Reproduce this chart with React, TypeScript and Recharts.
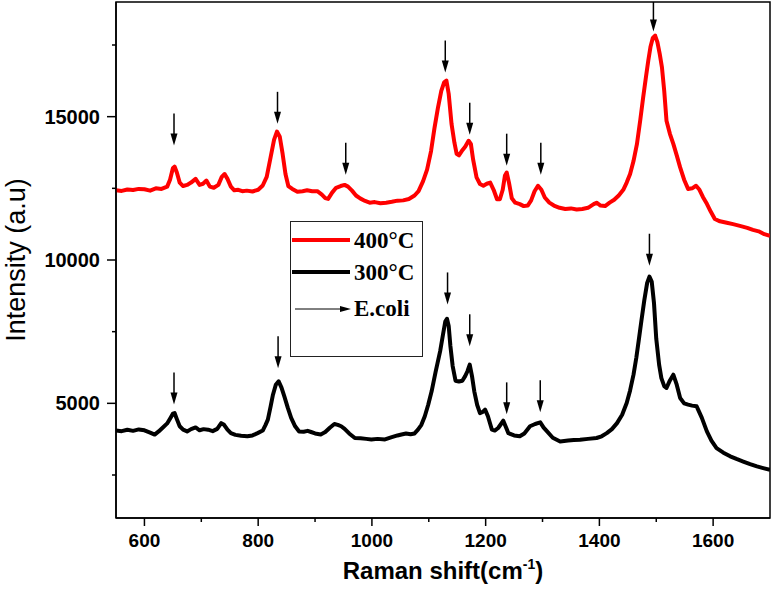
import React from 'react';
import { ComposedChart, Line, Scatter, XAxis, YAxis, ReferenceArea } from 'recharts';

// Raman spectra (x in cm^-1, y in a.u.)
const SERIES_NAMES = ['400°C', '300°C'];
const ARROW_NAME = 'E.coli';

const SPECTRUM_400 = [
  { x: 550, y: 12430 }, { x: 560, y: 12410 }, { x: 570, y: 12460 }, { x: 580, y: 12440 },
  { x: 590, y: 12480 }, { x: 600, y: 12470 }, { x: 610, y: 12420 }, { x: 620, y: 12500 },
  { x: 630, y: 12480 }, { x: 640, y: 12560 }, { x: 645, y: 12800 }, { x: 650, y: 13200 },
  { x: 653, y: 13260 }, { x: 657, y: 13050 }, { x: 662, y: 12700 }, { x: 668, y: 12580 },
  { x: 675, y: 12620 }, { x: 682, y: 12700 }, { x: 690, y: 12830 }, { x: 697, y: 12620 },
  { x: 703, y: 12660 }, { x: 709, y: 12770 }, { x: 715, y: 12560 }, { x: 722, y: 12520 },
  { x: 730, y: 12620 }, { x: 736, y: 12900 }, { x: 741, y: 13000 }, { x: 746, y: 12830 },
  { x: 752, y: 12560 }, { x: 758, y: 12430 }, { x: 765, y: 12450 }, { x: 772, y: 12400 },
  { x: 780, y: 12420 }, { x: 790, y: 12390 }, { x: 800, y: 12450 }, { x: 808, y: 12600 },
  { x: 815, y: 12900 }, { x: 822, y: 13600 }, { x: 828, y: 14200 }, { x: 833, y: 14480 },
  { x: 838, y: 14300 }, { x: 843, y: 13700 }, { x: 848, y: 13000 }, { x: 853, y: 12580 },
  { x: 860, y: 12480 }, { x: 869, y: 12380 }, { x: 878, y: 12400 }, { x: 886, y: 12430 },
  { x: 895, y: 12400 }, { x: 904, y: 12400 }, { x: 912, y: 12280 }, { x: 918, y: 12160 },
  { x: 923, y: 12130 }, { x: 930, y: 12350 }, { x: 937, y: 12520 }, { x: 945, y: 12580 },
  { x: 952, y: 12620 }, { x: 958, y: 12560 }, { x: 965, y: 12420 }, { x: 972, y: 12250 },
  { x: 980, y: 12140 }, { x: 988, y: 12060 }, { x: 996, y: 12000 }, { x: 1005, y: 12020 },
  { x: 1015, y: 11980 }, { x: 1025, y: 12000 }, { x: 1035, y: 12030 }, { x: 1045, y: 12070 },
  { x: 1055, y: 12080 }, { x: 1065, y: 12130 }, { x: 1075, y: 12250 }, { x: 1082, y: 12400 },
  { x: 1090, y: 12750 }, { x: 1097, y: 13150 }, { x: 1104, y: 13800 }, { x: 1110, y: 14600 },
  { x: 1116, y: 15300 }, { x: 1122, y: 15900 }, { x: 1127, y: 16200 }, { x: 1131, y: 16260 },
  { x: 1135, y: 15800 }, { x: 1140, y: 14750 }, { x: 1145, y: 14100 }, { x: 1149, y: 13700 },
  { x: 1153, y: 13650 }, { x: 1158, y: 13800 }, { x: 1164, y: 13950 }, { x: 1170, y: 14160 },
  { x: 1174, y: 14050 }, { x: 1178, y: 13500 }, { x: 1184, y: 12880 }, { x: 1190, y: 12650 },
  { x: 1196, y: 12590 }, { x: 1202, y: 12660 }, { x: 1208, y: 12700 }, { x: 1214, y: 12450 },
  { x: 1220, y: 12120 }, { x: 1225, y: 12120 }, { x: 1230, y: 12450 }, { x: 1234, y: 12950 },
  { x: 1237, y: 13050 }, { x: 1241, y: 12700 }, { x: 1246, y: 12150 }, { x: 1252, y: 12000 },
  { x: 1260, y: 11950 }, { x: 1267, y: 11880 }, { x: 1274, y: 11900 }, { x: 1280, y: 12080 },
  { x: 1286, y: 12400 }, { x: 1292, y: 12590 }, { x: 1298, y: 12450 }, { x: 1304, y: 12180 },
  { x: 1312, y: 12000 }, { x: 1320, y: 11900 }, { x: 1330, y: 11820 }, { x: 1340, y: 11780 },
  { x: 1350, y: 11800 }, { x: 1360, y: 11760 }, { x: 1370, y: 11780 }, { x: 1380, y: 11820 },
  { x: 1390, y: 11950 }, { x: 1395, y: 12000 }, { x: 1402, y: 11900 }, { x: 1410, y: 11880 },
  { x: 1418, y: 12000 }, { x: 1426, y: 12100 }, { x: 1434, y: 12250 }, { x: 1442, y: 12450 },
  { x: 1448, y: 12700 }, { x: 1454, y: 13000 }, { x: 1460, y: 13450 }, { x: 1466, y: 14040 },
  { x: 1472, y: 14900 }, { x: 1477, y: 15680 }, { x: 1482, y: 16400 }, { x: 1486, y: 16960 },
  { x: 1490, y: 17450 }, { x: 1494, y: 17750 }, { x: 1498, y: 17830 }, { x: 1502, y: 17600 },
  { x: 1506, y: 17200 }, { x: 1510, y: 16720 }, { x: 1514, y: 15900 }, { x: 1518, y: 14860 },
  { x: 1524, y: 14400 }, { x: 1530, y: 14050 }, { x: 1536, y: 13650 }, { x: 1542, y: 13230 },
  { x: 1549, y: 12800 }, { x: 1556, y: 12480 }, { x: 1563, y: 12500 }, { x: 1570, y: 12590 },
  { x: 1576, y: 12450 }, { x: 1582, y: 12200 }, { x: 1589, y: 11960 }, { x: 1596, y: 11680 },
  { x: 1603, y: 11430 }, { x: 1612, y: 11350 }, { x: 1624, y: 11300 }, { x: 1635, y: 11250 },
  { x: 1647, y: 11190 }, { x: 1660, y: 11120 }, { x: 1670, y: 11050 }, { x: 1680, y: 11000 },
  { x: 1690, y: 10900 }, { x: 1700, y: 10840 },
];

const SPECTRUM_300 = [
  { x: 550, y: 4050 }, { x: 560, y: 4030 }, { x: 570, y: 4080 }, { x: 580, y: 4040 },
  { x: 590, y: 4090 }, { x: 600, y: 4060 }, { x: 610, y: 3980 }, { x: 618, y: 3910 },
  { x: 625, y: 4020 }, { x: 632, y: 4150 }, { x: 640, y: 4300 }, { x: 646, y: 4500 },
  { x: 650, y: 4640 }, { x: 653, y: 4660 }, { x: 657, y: 4450 }, { x: 662, y: 4200 },
  { x: 668, y: 4080 }, { x: 675, y: 4020 }, { x: 682, y: 4100 }, { x: 690, y: 4160 },
  { x: 697, y: 4060 }, { x: 704, y: 4100 }, { x: 712, y: 4080 }, { x: 720, y: 4030 },
  { x: 728, y: 4110 }, { x: 735, y: 4310 }, { x: 740, y: 4250 }, { x: 746, y: 4080 },
  { x: 752, y: 3960 }, { x: 760, y: 3900 }, { x: 770, y: 3870 }, { x: 781, y: 3850 },
  { x: 790, y: 3880 }, { x: 799, y: 3960 }, { x: 808, y: 4050 }, { x: 813, y: 4250 },
  { x: 817, y: 4430 }, { x: 822, y: 4900 }, { x: 826, y: 5300 }, { x: 831, y: 5650 },
  { x: 836, y: 5770 }, { x: 841, y: 5550 }, { x: 846, y: 5245 }, { x: 852, y: 4850 },
  { x: 858, y: 4490 }, { x: 865, y: 4200 }, { x: 872, y: 4020 }, { x: 880, y: 4010 },
  { x: 887, y: 4040 }, { x: 893, y: 4000 }, { x: 900, y: 3950 }, { x: 910, y: 3915 },
  { x: 918, y: 4000 }, { x: 926, y: 4150 }, { x: 934, y: 4280 }, { x: 940, y: 4250 },
  { x: 946, y: 4200 }, { x: 952, y: 4110 }, { x: 960, y: 3950 }, { x: 970, y: 3790 },
  { x: 980, y: 3780 }, { x: 990, y: 3760 }, { x: 999, y: 3740 }, { x: 1010, y: 3760 },
  { x: 1023, y: 3740 }, { x: 1035, y: 3820 }, { x: 1045, y: 3880 }, { x: 1052, y: 3915 },
  { x: 1060, y: 3950 }, { x: 1068, y: 3920 }, { x: 1075, y: 3950 }, { x: 1081, y: 4080 },
  { x: 1087, y: 4250 }, { x: 1093, y: 4550 }, { x: 1099, y: 4950 }, { x: 1105, y: 5420 },
  { x: 1112, y: 6100 }, { x: 1120, y: 6820 }, { x: 1125, y: 7400 }, { x: 1129, y: 7850 },
  { x: 1132, y: 7950 }, { x: 1135, y: 7700 }, { x: 1138, y: 7000 }, { x: 1142, y: 6300 },
  { x: 1147, y: 5790 }, { x: 1153, y: 5760 }, { x: 1159, y: 5790 }, { x: 1164, y: 5950 },
  { x: 1168, y: 6120 }, { x: 1172, y: 6350 }, { x: 1176, y: 5950 }, { x: 1180, y: 5420 },
  { x: 1185, y: 4950 }, { x: 1190, y: 4660 }, { x: 1195, y: 4700 }, { x: 1199, y: 4780 },
  { x: 1204, y: 4550 }, { x: 1211, y: 4080 }, { x: 1216, y: 4050 }, { x: 1222, y: 4140 },
  { x: 1227, y: 4280 }, { x: 1231, y: 4395 }, { x: 1235, y: 4200 }, { x: 1240, y: 3960 },
  { x: 1250, y: 3880 }, { x: 1260, y: 3850 }, { x: 1268, y: 3950 }, { x: 1278, y: 4200 },
  { x: 1287, y: 4280 }, { x: 1296, y: 4335 }, { x: 1302, y: 4150 }, { x: 1308, y: 4020 },
  { x: 1318, y: 3800 }, { x: 1331, y: 3670 }, { x: 1345, y: 3700 }, { x: 1355, y: 3720 },
  { x: 1366, y: 3730 }, { x: 1380, y: 3760 }, { x: 1395, y: 3790 }, { x: 1404, y: 3850 },
  { x: 1413, y: 3960 }, { x: 1422, y: 4100 }, { x: 1431, y: 4310 }, { x: 1440, y: 4600 },
  { x: 1448, y: 5010 }, { x: 1454, y: 5450 }, { x: 1460, y: 6000 }, { x: 1465, y: 6600 },
  { x: 1469, y: 7170 }, { x: 1474, y: 7900 }, { x: 1479, y: 8600 }, { x: 1484, y: 9200 },
  { x: 1488, y: 9420 }, { x: 1492, y: 9250 }, { x: 1496, y: 8500 }, { x: 1500, y: 7250 },
  { x: 1505, y: 6350 }, { x: 1509, y: 5880 }, { x: 1514, y: 5600 }, { x: 1518, y: 5535 },
  { x: 1524, y: 5800 }, { x: 1530, y: 6000 }, { x: 1536, y: 5650 }, { x: 1542, y: 5185 },
  { x: 1549, y: 5000 }, { x: 1556, y: 4955 }, { x: 1563, y: 4920 }, { x: 1571, y: 4895 },
  { x: 1580, y: 4500 }, { x: 1589, y: 4020 }, { x: 1597, y: 3700 }, { x: 1606, y: 3440 },
  { x: 1618, y: 3280 }, { x: 1630, y: 3150 }, { x: 1641, y: 3060 }, { x: 1653, y: 2970 },
  { x: 1665, y: 2880 }, { x: 1677, y: 2800 }, { x: 1688, y: 2740 }, { x: 1700, y: 2680 },
];

// arrow tips marking E.coli bands
const ARROWS_400 = [
  { x: 652, y: 13990 }, { x: 834, y: 14750 }, { x: 954, y: 12970 }, { x: 1129, y: 16540 },
  { x: 1172, y: 14370 }, { x: 1237, y: 13290 }, { x: 1297, y: 12970 }, { x: 1495, y: 17970 },
];
const ARROWS_300 = [
  { x: 652, y: 4960 }, { x: 835, y: 6220 }, { x: 1133, y: 8450 }, { x: 1172, y: 6990 },
  { x: 1237, y: 4615 }, { x: 1296, y: 4685 }, { x: 1488, y: 9800 },
];

const X_TICKS = [600, 700, 800, 900, 1000, 1100, 1200, 1300, 1400, 1500, 1600];
const X_LABELS = [600, 800, 1000, 1200, 1400, 1600];
const Y_TICKS = [2500, 5000, 7500, 10000, 12500, 15000, 17500];
const Y_LABELS = [5000, 10000, 15000];

const SANS = '"Liberation Sans", Arial, sans-serif';
const SERIF = '"Liberation Serif", "Times New Roman", serif';
const COLORS = ['#ff0000', '#000000'];

const XTick = (props: any) => {
  const { x, y, payload } = props;
  const major = X_LABELS.includes(payload.value);
  return (
    <g>
      <line x1={x} y1={y} x2={x} y2={y + (major ? 8 : 4)} stroke="#000" strokeWidth={1.5} />
      {major && (
        <text x={x} y={y + 29} textAnchor="middle" fontFamily={SANS} fontWeight="bold" fontSize={19} fill="#000">
          {payload.value}
        </text>
      )}
    </g>
  );
};

const YTick = (props: any) => {
  const { x, y, payload } = props;
  const major = Y_LABELS.includes(payload.value);
  return (
    <g>
      <line x1={x - (major ? 9 : 4)} y1={y} x2={x} y2={y} stroke="#000" strokeWidth={1.5} />
      {major && (
        <text x={x - 16} y={y + 7} textAnchor="end" fontFamily={SANS} fontWeight="bold" fontSize={20} fill="#000">
          {payload.value}
        </text>
      )}
    </g>
  );
};

const DownArrow = (props: any) => {
  const { cx, cy } = props;
  if (cx == null || cy == null) return <g />;
  return (
    <g>
      <line x1={cx} y1={cy - 32} x2={cx} y2={cy - 9} stroke="#000" strokeWidth={1.5} />
      <path d={`M${cx - 3.5},${cy - 12} L${cx + 3.5},${cy - 12} L${cx},${cy} Z`} fill="#000" />
    </g>
  );
};

const LegendBox = () => (
  <svg width={133} height={136} style={{ display: 'block' }}>
    <rect x={0.5} y={0.5} width={132} height={135} fill="#fff" stroke="#222" strokeWidth={1} />
    {SERIES_NAMES.map((name, i) => (
      <g key={name}>
        <line x1={2} y1={19 + i * 32} x2={60} y2={19 + i * 32} stroke={COLORS[i]} strokeWidth={4} />
        <text x={64} y={27 + i * 32} fontFamily={SERIF} fontWeight="bold" fontSize={23} fill="#000">
          {name}
        </text>
      </g>
    ))}
    <line x1={5} y1={88} x2={52} y2={88} stroke="#000" strokeWidth={1} />
    <path d="M50,85 L61,88 L50,91 Z" fill="#000" />
    <text x={64} y={95} fontFamily={SERIF} fontWeight="bold" fontSize={23} fill="#000">
      {ARROW_NAME}
    </text>
  </svg>
);

const YTitle = () => {
  const cy = 260;
  return (
    <text
      x={25}
      y={cy}
      transform={`rotate(-90, 25, ${cy})`}
      textAnchor="middle"
      fontFamily={SANS}
      fontSize={27}
      fill="#000"
    >
      Intensity (a.u)
    </text>
  );
};

const XTitle = () => (
  <text x={443} y={579} textAnchor="middle" fontFamily={SANS} fontWeight="bold" fontSize={24} fill="#000">
    Raman shift(cm
    <tspan dy={-10} fontSize={14}>-1</tspan>
    <tspan dy={10}>)</tspan>
  </text>
);

export default function App() {
  return (
    <div style={{ position: 'absolute', left: 0, top: 0, width: 774, height: 604, background: '#fff' }}>
      <ComposedChart width={774} height={604} margin={{ top: 2, right: 4, bottom: 0, left: 0 }}>
        <XAxis
          type="number"
          dataKey="x"
          domain={[550, 1700]}
          ticks={X_TICKS}
          allowDataOverflow
          height={86}
          tickSize={0}
          tickMargin={0}
          tickLine={false}
          tick={<XTick />}
          axisLine={{ stroke: '#000', strokeWidth: 1.5 }}
          label={<XTitle />}
        />
        <YAxis
          type="number"
          domain={[1000, 19000]}
          ticks={Y_TICKS}
          allowDataOverflow
          width={116}
          tickSize={0}
          tickMargin={0}
          tickLine={false}
          tick={<YTick />}
          axisLine={{ stroke: '#000', strokeWidth: 1.5 }}
          label={<YTitle />}
        />
        <ReferenceArea x1={550} x2={1700} y1={1000} y2={19000} fill="none" stroke="#000" strokeWidth={1.5} />
        <Line data={SPECTRUM_400} dataKey="y" name={SERIES_NAMES[0]} stroke={COLORS[0]} strokeWidth={4}
          dot={false} type="linear" isAnimationActive={false} strokeLinejoin="round" />
        <Line data={SPECTRUM_300} dataKey="y" name={SERIES_NAMES[1]} stroke={COLORS[1]} strokeWidth={4}
          dot={false} type="linear" isAnimationActive={false} strokeLinejoin="round" />
        <Scatter data={ARROWS_400} dataKey="y" shape={<DownArrow />} isAnimationActive={false} />
        <Scatter data={ARROWS_300} dataKey="y" shape={<DownArrow />} isAnimationActive={false} />
      </ComposedChart>
      <div style={{ position: 'absolute', left: 290, top: 221 }}>
        <LegendBox />
      </div>
    </div>
  );
}
